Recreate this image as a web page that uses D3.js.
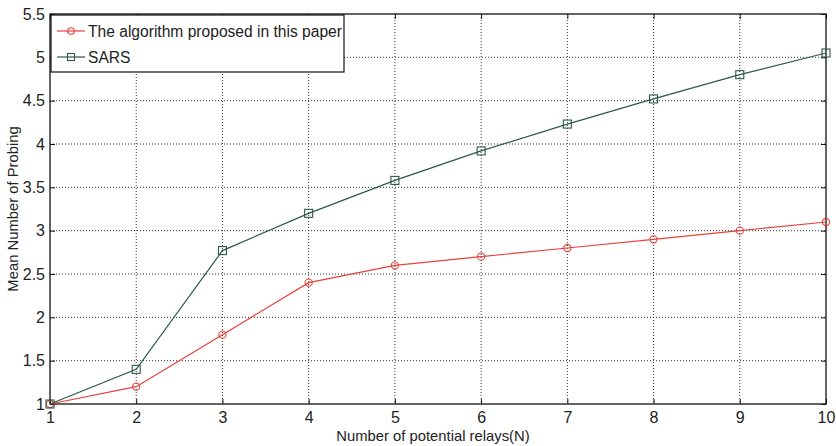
<!DOCTYPE html>
<html>
<head>
<meta charset="utf-8">
<script src="https://cdn.jsdelivr.net/npm/d3@7"></script>
<style>
  body { margin: 0; background: #fff; }
  text { font-family: "Liberation Sans", Arial, sans-serif; fill: #222; }
</style>
</head>
<body>
<div id="chart"></div>
<script>
const relays = [1, 2, 3, 4, 5, 6, 7, 8, 9, 10]
const proposed = [1, 1.2, 1.8, 2.4, 2.6, 2.7, 2.8, 2.9, 3.0, 3.1]
const sars = [1, 1.4, 2.77, 3.2, 3.58, 3.92, 4.23, 4.52, 4.8, 5.05]
const yTicks = [1, 1.5, 2, 2.5, 3, 3.5, 4, 4.5, 5, 5.5]
const seriesNames = ['The algorithm proposed in this paper', 'SARS']

const w = 836
const h = 446
const pLeft = 50, pRight = 826, pTop = 14, pBottom = 404

const xScale = d3.scaleLinear().domain([1, 10]).range([pLeft, pRight])
const yScale = d3.scaleLinear().domain([1, 5.5]).range([pBottom, pTop])

const svg = d3.select('#chart').append('svg')
    .attr('width', w)
    .attr('height', h)

// grid
svg.append('g').selectAll('line')
   .data(relays.slice(1, -1))
   .enter().append('line')
   .attr('x1', d => xScale(d)).attr('x2', d => xScale(d))
   .attr('y1', pTop).attr('y2', pBottom)
   .attr('stroke', '#333').attr('stroke-width', 1).attr('stroke-dasharray', '1,2')
svg.append('g').selectAll('line')
   .data(yTicks.slice(1, -1))
   .enter().append('line')
   .attr('x1', pLeft).attr('x2', pRight)
   .attr('y1', d => yScale(d)).attr('y2', d => yScale(d))
   .attr('stroke', '#333').attr('stroke-width', 1).attr('stroke-dasharray', '1,2')

// axes, ticks inside like matlab
svg.append('g').attr('transform', `translate(0,${pBottom})`)
    .call(d3.axisBottom(xScale).tickValues(relays).tickSize(-5).tickPadding(8).tickFormat(d3.format('d')))
svg.append('g').attr('transform', `translate(${pLeft},0)`)
    .call(d3.axisLeft(yScale).tickValues(yTicks).tickSize(-5).tickPadding(5).tickFormat(d => d))
svg.append('g').attr('transform', `translate(0,${pTop})`)
    .call(d3.axisTop(xScale).tickValues(relays).tickSize(-5).tickFormat(''))
svg.append('g').attr('transform', `translate(${pRight},0)`)
    .call(d3.axisRight(yScale).tickValues(yTicks).tickSize(-5).tickFormat(''))
svg.selectAll('.domain').remove()
svg.selectAll('.tick line').attr('stroke', '#111')
svg.selectAll('.tick text').attr('font-size', 16).style('fill', '#222')

svg.append('rect')
   .attr('x', pLeft).attr('y', pTop)
   .attr('width', pRight - pLeft).attr('height', pBottom - pTop)
   .attr('fill', 'none').attr('stroke', '#111').attr('stroke-width', 1.3)

// lines
const line = d3.line().x((d, i) => xScale(relays[i])).y(d => yScale(d))

svg.append('path').datum(proposed)
   .attr('d', line).attr('fill', 'none').attr('stroke', '#e8403a').attr('stroke-width', 1.2)
svg.append('path').datum(sars)
   .attr('d', line).attr('fill', 'none').attr('stroke', '#2a5a44').attr('stroke-width', 1.2)

svg.append('g').selectAll('circle')
   .data(proposed)
   .enter().append('circle')
   .attr('cx', (d, i) => xScale(relays[i]))
   .attr('cy', d => yScale(d))
   .attr('r', 3.6)
   .attr('fill', 'none').attr('stroke', '#e8403a').attr('stroke-width', 1.1)

svg.append('g').selectAll('rect')
   .data(sars)
   .enter().append('rect')
   .attr('x', (d, i) => xScale(relays[i]) - 4)
   .attr('y', d => yScale(d) - 4)
   .attr('width', 8).attr('height', 8)
   .attr('fill', 'none').attr('stroke', '#2a5a44').attr('stroke-width', 1.1)

// legend
const lg = svg.append('g')
lg.append('rect')
  .attr('x', 51).attr('y', 15).attr('width', 293).attr('height', 57)
  .attr('fill', '#fff').attr('stroke', '#111').attr('stroke-width', 1.2)
lg.append('line').attr('x1', 57).attr('x2', 85).attr('y1', 31).attr('y2', 31)
  .attr('stroke', '#e8403a').attr('stroke-width', 1.2)
lg.append('circle').attr('cx', 71).attr('cy', 31).attr('r', 3.3)
  .attr('fill', 'none').attr('stroke', '#e8403a').attr('stroke-width', 1.1)
lg.append('line').attr('x1', 57).attr('x2', 85).attr('y1', 57).attr('y2', 57)
  .attr('stroke', '#2a5a44').attr('stroke-width', 1.2)
lg.append('rect').attr('x', 67.5).attr('y', 53.5).attr('width', 7).attr('height', 7)
  .attr('fill', 'none').attr('stroke', '#2a5a44').attr('stroke-width', 1.1)
lg.selectAll('text.leg')
  .data(seriesNames)
  .enter().append('text')
  .attr('class', 'leg')
  .attr('x', 88).attr('y', (d, i) => 37 + i * 26)
  .attr('font-size', 15.6)
  .text(d => d)

// axis titles
svg.append('text')
   .attr('x', (pLeft + pRight) / 2 - 5).attr('y', 441)
   .attr('text-anchor', 'middle').attr('font-size', 14.8)
   .text('Number of potential relays(N)')
svg.append('text')
   .attr('transform', `translate(18,${(pTop + pBottom) / 2}) rotate(-90)`)
   .attr('text-anchor', 'middle').attr('font-size', 14.8)
   .text('Mean Number of Probing')
</script>
</body>
</html>
